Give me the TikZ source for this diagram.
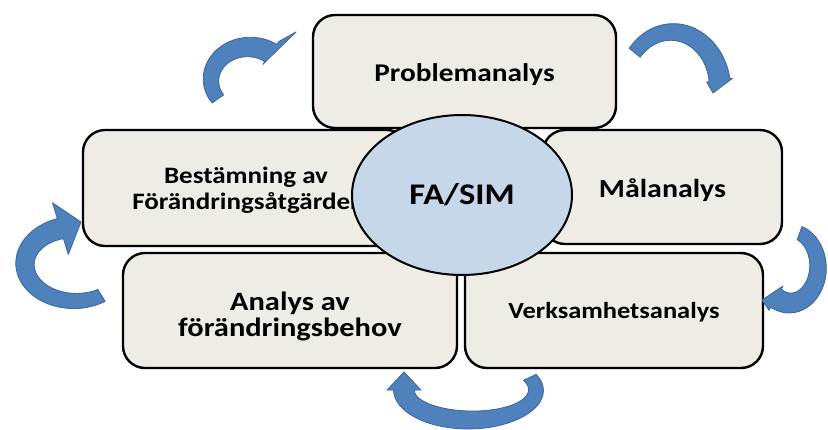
\documentclass[tikz,border=0pt]{standalone}
\usepackage{fontspec}
\setmainfont{Carlito}[FakeStretch=1.15]
\usepackage{tikz}
\usetikzlibrary{shapes.geometric}
\definecolor{boxfill}{HTML}{EEECE4}
\definecolor{ovalfill}{HTML}{C6D7E9}
\definecolor{arrowblue}{HTML}{4F81BD}
\definecolor{arrowedge}{HTML}{3A6797}
\tikzset{bent/.style={fill=arrowblue, draw=arrowedge, line width=.8pt, line join=round}}
% centre x, centre y, radius x, radius y, start angle, end angle, head size, tip
\newcommand{\bentarrow}[8]{%
  \filldraw[bent]
    plot[domain=#5:#6, samples=40, variable=\t] ({#1+(#3+7+3.5*(\t-(#5))/(#6-(#5)))*cos(\t)}, {#2+(#4+7+3.5*(\t-(#5))/(#6-(#5)))*sin(\t)})
    -- ({#1+(#3+#7)*cos(#6)}, {#2+(#4+#7)*sin(#6)}) -- (#8)
    -- ({#1+(#3-#7)*cos(#6)}, {#2+(#4-#7)*sin(#6)})
    -- plot[domain=#6:#5, samples=40, variable=\t] ({#1+(#3-7-3.5*(\t-(#5))/(#6-(#5)))*cos(\t)}, {#2+(#4-7-3.5*(\t-(#5))/(#6-(#5)))*sin(\t)})
    -- cycle;}
\begin{document}
\begin{tikzpicture}[x=1pt, y=-1pt,
  box/.style={draw=black, line width=2.4pt, rounded corners=22pt, fill=boxfill, inner sep=0pt},
  txt/.style={align=center, inner sep=0pt, font=\bfseries\fontsize{#1}{26.5}\selectfont},
  oval/.style={ellipse, draw=black, line width=2pt, fill=ovalfill, inner sep=0pt}]
\useasboundingbox (0,0) rectangle (828,429);
\node[box, minimum width=303pt, minimum height=113pt] (prob) at (464.5,71.5) {};
\node[box, minimum width=326pt, minimum height=116pt] (best) at (246,188) {};
\node[box, minimum width=239pt, minimum height=114pt] (mal) at (662.5,187) {};
\node[box, minimum width=334pt, minimum height=115pt] (behov) at (290,310.5) {};
\node[box, minimum width=298pt, minimum height=115pt] (verk) at (614,310.5) {};
\node[txt=25.5, yshift=-3pt] (probtext) at (prob) {Problemanalys};
\node[txt=23.5, yshift=-2pt] (besttext) at (best) {Bestämning av\\Förändringsåtgärder};
\node[txt=26, yshift=-3pt] (maltext) at (mal) {Målanalys};
\node[txt=26.5, yshift=-6pt] (behovtext) at (behov) {Analys av\\förändringsbehov};
\node[txt=23, yshift=-2pt] (verktext) at (verk) {Verksamhetsanalys};
\node[oval, minimum width=220pt, minimum height=160pt, font=\bfseries\fontsize{30}{32}\selectfont] (fasim) at (462,195) {FA/SIM};
%
\coordinate (tipA) at (296,32);
\coordinate (tipB) at (713,93);
\coordinate (tipC) at (762,300);
\coordinate (tipD) at (404,372);
\coordinate (tipE) at (81,222);
\bentarrow{249}{80}{38}{33}{145}{305}{14}{tipA}
\bentarrow{672}{88}{48}{56}{219}{352}{13}{tipB}
\bentarrow{790}{267}{28}{36}{290}{480}{14}{tipC}
\bentarrow{470}{390}{66}{30}{-25}{180}{17}{tipD}
\bentarrow{75}{264}{50}{37}{58}{253}{27}{tipE}
\end{tikzpicture}
\end{document}
